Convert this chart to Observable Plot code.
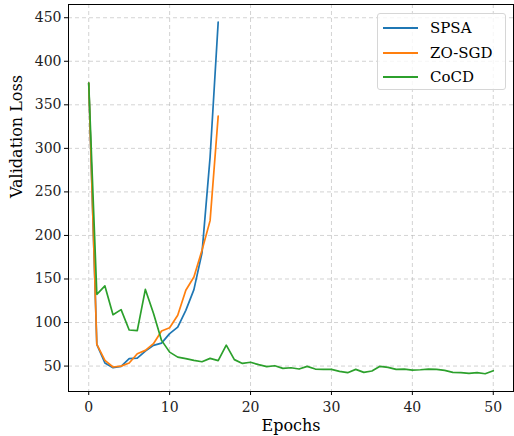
<!DOCTYPE html>
<html>
<head>
<meta charset="utf-8">
<script src="https://cdn.jsdelivr.net/npm/d3@7"></script>
<script src="https://cdn.jsdelivr.net/npm/@observablehq/plot@0.6"></script>
<style>
  html, body { margin: 0; padding: 0; background: #fff; }
  #wrap { position: relative; width: 514px; height: 436px; font-family: "DejaVu Serif", serif; }
  #legend { position: absolute; left: 377px; top: 13px; width: 129px; height: 77px; box-sizing: border-box;
    border: 1px solid #d6d6d6; border-radius: 3px; background: rgba(255,255,255,0.8); font-size: 15px; }
  .row { position: absolute; left: 0; height: 20px; display: flex; align-items: center; }
  .row span.line { display: inline-block; width: 35px; height: 2px; margin-left: 5px; margin-right: 12px; }
</style>
</head>
<body>
<div id="wrap"></div>
<script>
const seriesNames = ["SPSA", "ZO-SGD", "CoCD"];
const seriesColors = ["#1f77b4", "#ff7f0e", "#2ca02c"];
const xTicks = [0, 10, 20, 30, 40, 50];
const yTicks = [50, 100, 150, 200, 250, 300, 350, 400, 450];

const spsa = [375, 75, 53.5, 48.1, 49.7, 58.5, 59.2, 67.2, 73.8, 76.4, 87.2, 94.8, 114, 137.8, 180, 290, 445];
const zosgd = [375, 75, 56.5, 48.9, 49.9, 53.5, 64.2, 68, 75.7, 90.2, 94, 108.3, 137, 152.3, 183, 217, 337];
const cocd = [375, 132.4, 142, 109, 114.8, 91.4, 90.7, 138, 110.6, 79.5, 66, 60.3, 58.5, 56.5, 55, 58.8, 56.2,
  74, 57.4, 53, 54.4, 51.6, 49.3, 50.4, 47.4, 48.1, 46.6, 49.7, 46.6, 46.2, 46.2, 43.9, 42.4, 46.2, 42.8,
  44.3, 49.7, 48.5, 46.2, 46.6, 45.4, 45.8, 46.6, 46.2, 45, 42.8, 42.4, 41.6, 42.4, 41.2, 44.7];

const rows = [];
[spsa, zosgd, cocd].forEach((arr, k) => arr.forEach((v, i) => rows.push({epoch: i, loss: v, series: seriesNames[k]})));

const font = "DejaVu Serif";
const chart = Plot.plot({
  width: 514,
  height: 436,
  marginLeft: 68,
  marginRight: 1,
  marginTop: 4,
  marginBottom: 45,
  style: {fontFamily: font, fontSize: "14px", background: "#fff", color: "#000"},
  x: {domain: [-2.5, 52.5]},
  y: {domain: [20.8, 465.2]},
  color: {domain: seriesNames, range: seriesColors},
  marks: [
    Plot.gridX(xTicks, {stroke: "#b0b0b0", strokeOpacity: 0.7, strokeDasharray: "4,3", strokeWidth: 0.8}),
    Plot.gridY(yTicks, {stroke: "#b0b0b0", strokeOpacity: 0.7, strokeDasharray: "4,3", strokeWidth: 0.8}),
    Plot.line(rows, {x: "epoch", y: "loss", z: "series", stroke: "series", strokeWidth: 1.7}),
    Plot.frame({stroke: "#000", strokeWidth: 1}),
    Plot.axisX(xTicks, {tickSize: 4, tickPadding: 7, label: null, fontSize: 14, fontFamily: font, fill: "#222"}),
    Plot.axisY(yTicks, {tickSize: 4, tickPadding: 3, label: null, fontSize: 14, fontFamily: font, fill: "#222"}),
    Plot.text(["Epochs"], {frameAnchor: "bottom", dy: 39, fontSize: 16, fontFamily: font, fill: "#000"}),
    Plot.text(["Validation Loss"], {frameAnchor: "left", dx: -52, rotate: -90, fontSize: 16, fontFamily: font, fill: "#000"})
  ]
});
const wrap = document.getElementById("wrap");
wrap.appendChild(chart);

const legend = document.createElement("div");
legend.id = "legend";
seriesNames.forEach((name, i) => {
  const r = document.createElement("div");
  r.className = "row";
  r.style.top = (4 + i * 24.5) + "px";
  const l = document.createElement("span");
  l.className = "line";
  l.style.background = seriesColors[i];
  const t = document.createElement("span");
  t.textContent = name;
  r.appendChild(l); r.appendChild(t);
  legend.appendChild(r);
});
wrap.appendChild(legend);
</script>
</body>
</html>
